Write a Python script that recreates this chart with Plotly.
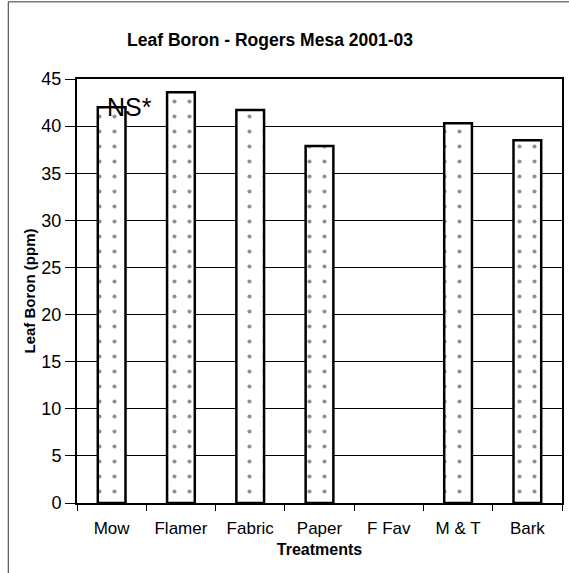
import plotly.graph_objects as go

# values
treatments = ["Mow", "Flamer", "Fabric", "Paper", "F Fav", "M & T", "Bark"]
leaf_boron = [42.0, 43.6, 41.7, 37.9, None, 40.3, 38.5]
y_ticks = [0, 5, 10, 15, 20, 25, 30, 35, 40, 45]

fig = go.Figure()

fig.add_trace(go.Bar(
    x=treatments,
    y=leaf_boron,
    width=0.4,
    marker=dict(
        color="white",
        line=dict(color="black", width=2.5),
        pattern=dict(shape=".", fgcolor="#222222", bgcolor="white",
                     size=15, solidity=0.06),
    ),
    showlegend=False,
))

fig.add_annotation(x=0, y=leaf_boron[0], text="NS*", showarrow=False,
                   xshift=18, yanchor="middle",
                   font=dict(family="Arial", size=25, color="black"))

# outer chart frame (partly cropped in the original picture)
fig.add_shape(type="line", xref="paper", yref="paper",
              x0=-0.1417, y0=-0.2, x1=-0.1417, y1=1.182,
              line=dict(color="#333333", width=1))
fig.add_shape(type="line", xref="paper", yref="paper",
              x0=-0.1417, y0=1.182, x1=1.2, y1=1.182,
              line=dict(color="#333333", width=1))

fig.update_layout(
    width=569, height=573,
    margin=dict(l=77, r=5, t=79, b=70),
    paper_bgcolor="white", plot_bgcolor="white",
    font=dict(family="Arial", color="black"),
    title=dict(text="<b>Leaf Boron - Rogers Mesa 2001-03</b>",
               x=270 / 569, xanchor="center", y=1 - 40 / 573, yanchor="middle",
               font=dict(size=17.5)),
    bargap=0.6,
)

fig.update_xaxes(
    title=dict(text="<b>Treatments</b>", font=dict(size=16), standoff=6),
    tickfont=dict(size=17), ticklabelstandoff=9,
    showline=True, linecolor="black", linewidth=2, mirror=True,
    ticks="outside", tickson="boundaries", ticklen=6, tickcolor="black",
    showgrid=False,
)
fig.update_yaxes(
    title=dict(text="<b>Leaf Boron (ppm)</b>", font=dict(size=15), standoff=2),
    range=[0, 45], tickvals=y_ticks, tickfont=dict(size=18),
    showline=True, linecolor="black", linewidth=2, mirror=True,
    ticks="outside", ticklen=10, tickcolor="black",
    showgrid=True, gridcolor="black", gridwidth=1,
    zeroline=False,
)

fig.write_html("out.html", config={"displayModeBar": False},
               post_script="document.body.style.margin='0';")
